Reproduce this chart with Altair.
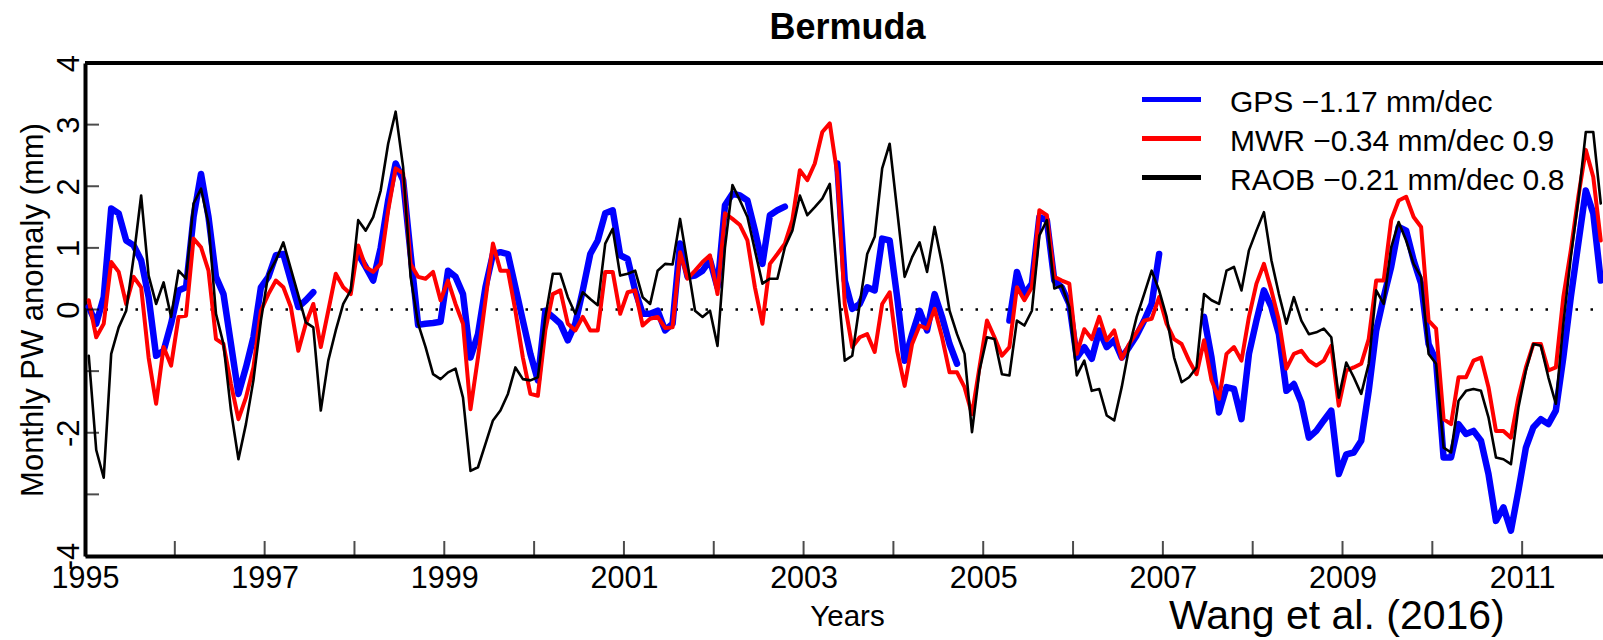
import altair as alt
import pandas as pd

FONT = "Liberation Sans"
START_YEAR = 1995

# Monthly anomalies (mm), one value per month starting Jan 1995; None = no data
gps = [0.04, -0.23, 0.2, 1.64, 1.56, 1.12, 1.04, 0.8, 0.2, -0.75, -0.67, -0.23,
       0.31, 0.36, 1.5, 2.2, 1.5, 0.53, 0.25, -0.56, -1.37, -0.94, -0.45, 0.36,
       0.53, 0.88, 0.9, 0.47, 0.04, 0.15, 0.28, None, None, None, None, None,
       0.9, 0.69, 0.47, 1.0, 1.77, 2.37, 2.1, 0.9, -0.25, -0.23, -0.22, -0.2,
       0.63, 0.53, 0.25, -0.78, -0.4, 0.36, 0.9, 0.93, 0.9, 0.36, -0.18, -0.72,
       -1.15, -0.02, -0.12, -0.23, -0.5, -0.23, 0.31, 0.9, 1.12, 1.56, 1.61, 0.88,
       0.82, 0.31, -0.07, -0.07, -0.02, -0.34, -0.23, 1.07, 0.53, 0.55, 0.63, 0.8,
       0.36, 1.69, 1.88, 1.85, 1.77, 1.28, 0.74, 1.53, 1.61, 1.67, None, None,
       None, None, None, None, 2.37, 0.47, 0.01, 0.09, 0.36, 0.31, 1.15, 1.12,
       0.2, -0.83, -0.4, -0.02, -0.34, 0.25, -0.12, -0.56, -0.88, None, None, None,
       None, None, None, -0.18, 0.61, 0.25, 0.42, 1.5, 1.45, 0.47, 0.36, 0.09,
       -0.78, -0.61, -0.8, -0.34, -0.61, -0.5, -0.78, -0.61, -0.42, -0.18, 0.09, 0.9,
       None, None, None, None, None, -0.12, -0.78, -1.67, -1.26, -1.29, -1.78, -0.72,
       -0.18, 0.31, 0.04, -0.4, -1.32, -1.21, -1.51, -2.08, -1.97, -1.8, -1.64, -2.67,
       -2.35, -2.32, -2.13, -1.32, -0.34, 0.2, 0.69, 1.34, 1.28, 0.8, 0.42, -0.56,
       -0.83, -2.4, -2.4, -1.86, -2.02, -1.97, -2.13, -2.67, -3.43, -3.21, -3.59, -2.94,
       -2.24, -1.91, -1.78, -1.86, -1.64, -0.78, 0.2, 1.07, 1.93, 1.56, 0.47]

mwr = [0.15, -0.45, -0.23, 0.77, 0.61, 0.09, 0.53, 0.36, -0.78, -1.53, -0.61, -0.91,
       -0.12, -0.1, 1.15, 1.01, 0.63, -0.48, -0.56, -1.21, -1.78, -1.43, -0.94, -0.02,
       0.25, 0.47, 0.36, 0.04, -0.67, -0.23, 0.09, -0.61, -0.02, 0.58, 0.36, 0.25,
       1.04, 0.69, 0.61, 0.74, 1.61, 2.29, 2.21, 0.74, 0.53, 0.5, 0.61, 0.15,
       0.47, 0.09, -0.23, -1.62, -0.78, 0.15, 1.07, 0.63, 0.63, -0.02, -0.78, -1.37,
       -1.4, -0.34, 0.25, 0.31, -0.23, -0.34, -0.12, -0.34, -0.34, 0.61, 0.61, -0.07,
       0.28, 0.31, -0.26, -0.15, -0.12, -0.3, -0.29, 0.93, 0.5, 0.63, 0.77, 0.88,
       0.25, 1.56, 1.47, 1.37, 1.12, 0.36, -0.23, 0.74, 0.9, 1.07, 1.45, 2.26,
       2.1, 2.37, 2.88, 3.02, 2.2, 0.09, -0.61, -0.45, -0.4, -0.69, 0.09, 0.28,
       -0.67, -1.24, -0.56, -0.26, -0.31, 0.01, -0.45, -1.02, -1.02, -1.26, -1.7, -0.94,
       -0.18, -0.45, -0.75, -0.61, 0.36, 0.15, 0.36, 1.61, 1.53, 0.53, 0.47, 0.42,
       -0.72, -0.32, -0.48, -0.12, -0.5, -0.34, -0.8, -0.56, -0.37, -0.18, -0.15, 0.2,
       -0.23, -0.48, -0.56, -0.83, -1.05, -0.5, -1.15, -1.45, -0.72, -0.61, -0.83, -0.12,
       0.42, 0.74, 0.31, -0.18, -0.96, -0.72, -0.67, -0.83, -0.91, -0.83, -0.59, -1.56,
       -0.99, -0.94, -0.88, -0.48, 0.47, 0.47, 1.45, 1.77, 1.83, 1.5, 1.34, -0.18,
       -0.31, -1.78, -1.86, -1.1, -1.1, -0.83, -0.78, -1.26, -1.97, -1.97, -2.08, -1.43,
       -0.94, -0.56, -0.56, -0.99, -0.94, 0.2, 0.96, 1.83, 2.59, 2.15, 1.12]

raob = [-0.75, -2.28, -2.73, -0.72, -0.29, -0.02, 0.85, 1.85, 0.55, 0.09, 0.44, -0.12,
        0.63, 0.5, 1.72, 1.96, 1.39, -0.07, -0.56, -1.64, -2.43, -1.86, -1.15, -0.18,
        0.58, 0.8, 1.09, 0.66, 0.23, -0.21, -0.29, -1.64, -0.83, -0.34, 0.09, 0.31,
        1.45, 1.28, 1.5, 1.93, 2.69, 3.21, 2.31, 0.53, -0.23, -0.61, -1.05, -1.13,
        -1.02, -0.96, -1.43, -2.62, -2.56, -2.18, -1.8, -1.64, -1.37, -0.94, -1.13, -1.15,
        -1.1, -0.12, 0.58, 0.58, 0.2, -0.07, 0.28, 0.17, 0.07, 1.07, 1.31, 0.55,
        0.58, 0.63, 0.2, 0.09, 0.63, 0.74, 0.73, 1.47, 0.74, -0.02, -0.12, -0.02,
        -0.59, 1.01, 2.02, 1.77, 1.5, 0.96, 0.42, 0.5, 0.5, 1.01, 1.28, 1.85,
        1.53, 1.66, 1.8, 2.04, 0.5, -0.83, -0.75, 0.09, 0.9, 1.18, 2.29, 2.69,
        1.61, 0.53, 0.85, 1.09, 0.61, 1.34, 0.74, -0.02, -0.4, -0.72, -1.99, -0.99,
        -0.45, -0.48, -1.05, -1.07, -0.18, -0.26, -0.02, 1.2, 1.45, 0.34, 0.39, 0.04,
        -1.07, -0.83, -1.32, -1.29, -1.72, -1.8, -1.26, -0.61, -0.12, 0.25, 0.63, 0.31,
        -0.12, -0.78, -1.18, -1.1, -0.94, 0.25, 0.15, 0.09, 0.63, 0.69, 0.31, 0.96,
        1.28, 1.58, 0.8, 0.25, -0.23, 0.2, -0.18, -0.4, -0.37, -0.31, -0.45, -1.43,
        -0.86, -1.1, -1.37, -0.88, 0.31, 0.09, 1.01, 1.42, 1.12, 0.74, 0.53, -0.72,
        -0.88, -2.24, -2.32, -1.48, -1.32, -1.29, -1.32, -1.75, -2.4, -2.43, -2.51, -1.59,
        -0.99, -0.56, -0.59, -1.1, -1.53, -0.23, 0.85, 1.77, 2.88, 2.88, 1.72]

series_names = ["GPS", "MWR", "RAOB"]
legend_labels = ["GPS \u22121.17 mm/dec", "MWR \u22120.34 mm/dec 0.9", "RAOB \u22120.21 mm/dec 0.8"]
series_colors = ["#0000ff", "#ff0000", "#000000"]
series_widths = [6.5, 4, 2.6]
x_label_years = list(range(1995, 2012, 2))
x_tick_years = list(range(1995, 2013))
y_ticks = [-4, -3, -2, -1, 0, 1, 2, 3, 4]
source_note = "Wang et al. (2016)"
chart_title = "Bermuda"

W, H = 1518, 493
X_MAX = 2011.9


def to_frame(vals, name):
    rows, seg, in_gap = [], 0, False
    for k, v in enumerate(vals):
        if v is None:
            if not in_gap:
                seg += 1
            in_gap = True
            continue
        in_gap = False
        rows.append({"t": START_YEAR + (k + 0.5) / 12.0, "v": v, "seg": seg, "series": name})
    return pd.DataFrame(rows)


xscale = alt.Scale(domain=[1995, X_MAX], nice=False, zero=False)
yscale = alt.Scale(domain=[-4, 4], nice=False, zero=False)

x_axis = alt.Axis(values=x_label_years, format="d", labelFont=FONT, labelFontSize=30.5,
                  labelColor="black", labelPadding=7, labelFlush=False, labelOverlap=False,
                  ticks=False, tickSize=0, domainColor="black", domainWidth=4, grid=False,
                  title="Years", titleFont=FONT, titleFontSize=29.5, titleFontWeight="normal",
                  titleColor="black", titleX=762, titleY=69, titleBaseline="alphabetic",
                  titleAlign="center")
y_axis = alt.Axis(values=y_ticks,
                  labelExpr="(datum.value == -1 || datum.value == -3) ? '' : '' + datum.value",
                  labelFont=FONT, labelFontSize=31, labelColor="black", labelAngle=270,
                  labelAlign="center", labelBaseline="alphabetic", labelPadding=7,
                  labelFlush=False, labelOverlap=False, ticks=False, tickSize=0,
                  domainColor="black", domainWidth=4, grid=False,
                  title="Monthly PW anomaly (mm)", titleFont=FONT, titleFontSize=31,
                  titleFontWeight="normal", titleColor="black", titleAngle=270,
                  titleAlign="center", titleBaseline="alphabetic", titleX=-43, titleY=246.5)


def xe(field):
    return alt.X(field, scale=xscale, axis=x_axis)


def ye(field):
    return alt.Y(field, scale=yscale, axis=y_axis)


layers = []

for vals, name, col, w in zip([gps, mwr, raob], series_names, series_colors, series_widths):
    df = to_frame(vals, name)
    layers.append(
        alt.Chart(df).mark_line(color=col, strokeWidth=w, clip=True,
                                strokeJoin="round", strokeCap="round").encode(
            x=xe("t:Q"), y=ye("v:Q"), detail="seg:N",
        )
    )

# zero dotted line
zero = alt.Chart(pd.DataFrame({"v": [0]})).mark_rule(
    color="black", strokeWidth=2.5, strokeDash=[2.5, 12.5], strokeDashOffset=5
).encode(y=ye("v:Q"))
layers.insert(0, zero)

# top frame line
top = alt.Chart(pd.DataFrame({"v": [4]})).mark_rule(color="black", strokeWidth=4).encode(
    y=ye("v:Q"))
layers.append(top)

# inward ticks
yt = alt.Chart(pd.DataFrame({"v": y_ticks})).mark_tick(
    orient="horizontal", color="black", size=14, thickness=2
).encode(y=ye("v:Q"), x=alt.value(7))
xt = alt.Chart(pd.DataFrame({"t": x_tick_years})).mark_tick(
    orient="vertical", color="black", size=15, thickness=2, clip=True
).encode(x=xe("t:Q"), y=alt.value(H - 7.5))
layers += [yt, xt]

# legend (drawn inside the plot, top right)
leg = pd.DataFrame({"series": series_names, "label": legend_labels})
for i, (name, col) in enumerate(zip(series_names, series_colors)):
    ly = 99.5 - 63 + 39 * i
    sub = leg[leg["series"] == name]
    layers.append(alt.Chart(sub).mark_rule(color=col, strokeWidth=5).encode(
        x=alt.value(1057), x2=alt.value(1116), y=alt.value(ly)))
    layers.append(alt.Chart(sub).mark_text(
        font=FONT, fontSize=30, align="left", baseline="alphabetic", color="black"
    ).encode(x=alt.value(1145), y=alt.value(ly + 12), text="label:N"))

# source note
layers.append(alt.Chart(pd.DataFrame({"note": [source_note]})).mark_text(
    font=FONT, fontSize=41, align="left", baseline="alphabetic", color="black"
).encode(x=alt.value(1169 - 85), y=alt.value(629 - 63), text="note:N"))

chart = alt.layer(*layers).properties(
    width=W, height=H,
    title=alt.TitleParams(text=chart_title, font=FONT, fontSize=36, fontWeight="bold",
                          anchor="middle", frame="group", dx=3.5, offset=7, color="black"),
    padding={"left": 85, "top": 63, "right": 0, "bottom": 84},
    autosize=alt.AutoSizeParams(type="none"),
).configure_view(strokeWidth=0).configure(background="white")

chart.save("out.html", embed_options={"renderer": "svg", "actions": False})
